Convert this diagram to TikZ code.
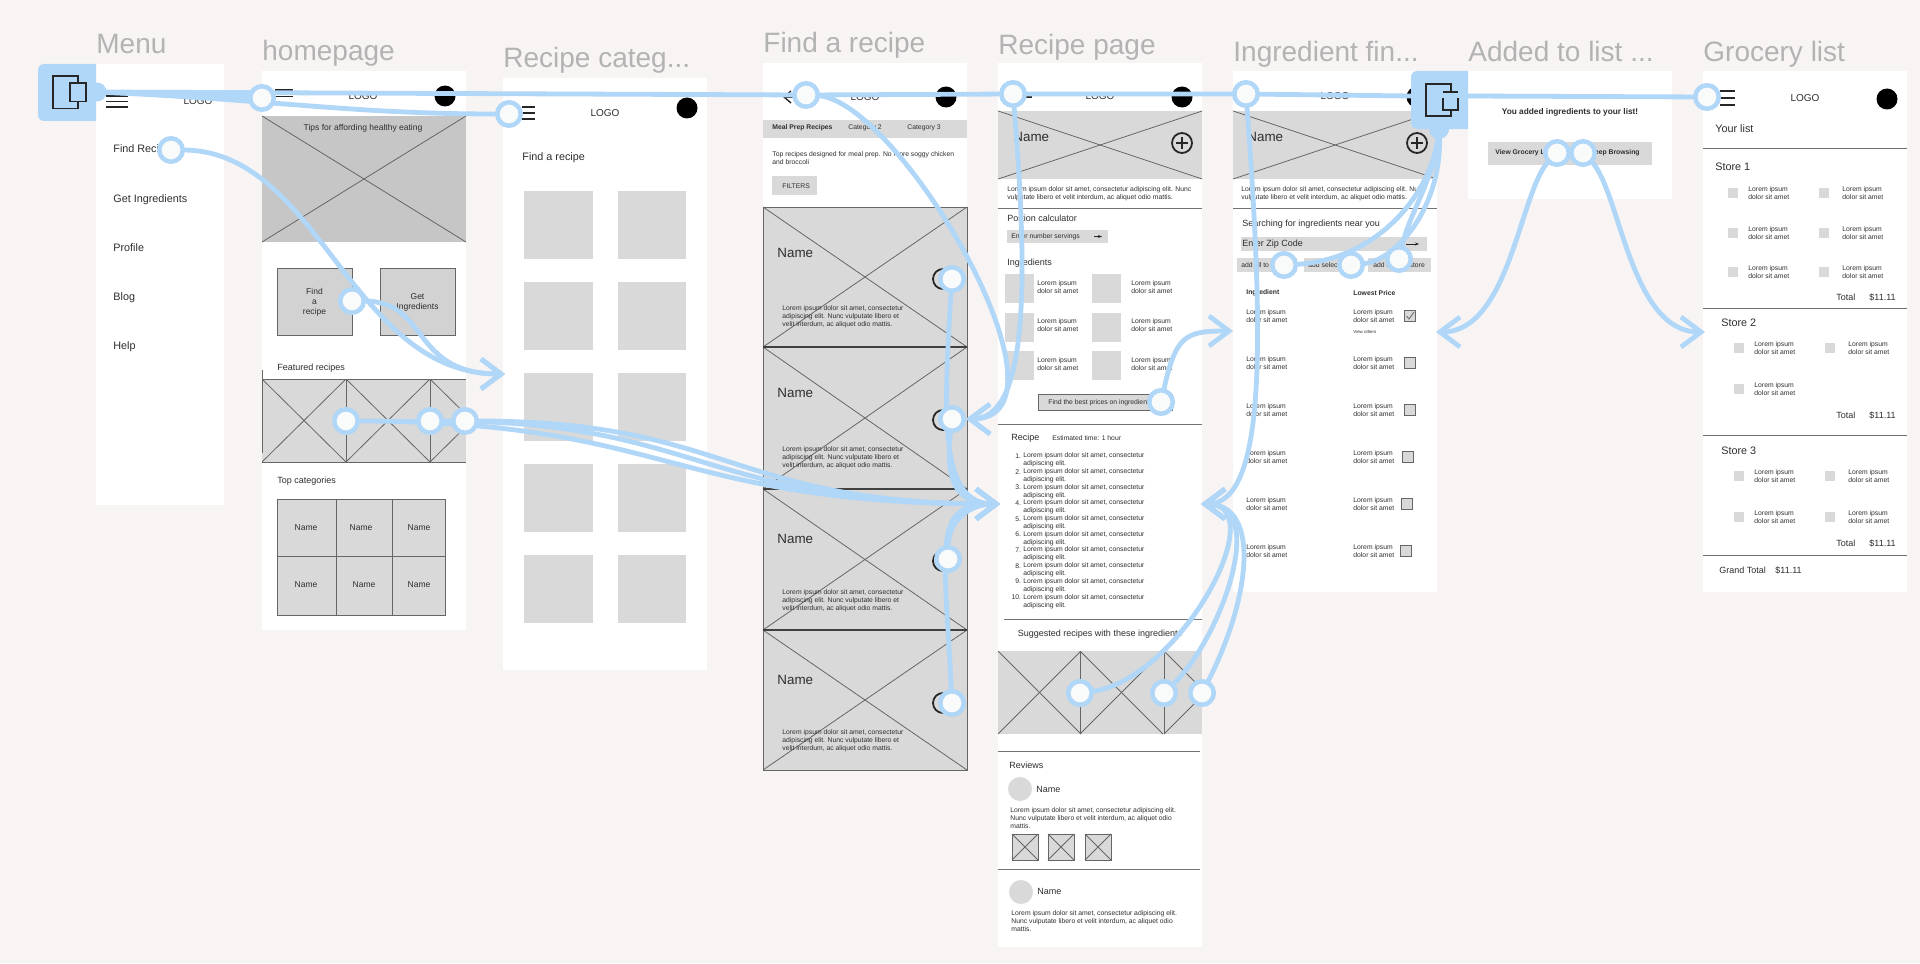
\documentclass[tikz,border=0pt]{standalone}
\usepackage{fontspec}
\setmainfont{Liberation Sans}
\usetikzlibrary{arrows.meta}

\definecolor{canvasbg}{HTML}{F7F4F3}
\definecolor{flowblue}{HTML}{B0D6F8}
\definecolor{spotfill}{HTML}{F9FAFA}
\definecolor{wiregray}{HTML}{D9D9D9}
\definecolor{herogray}{HTML}{C6C6C6}
\definecolor{buttongray}{HTML}{D2D2D2}
\definecolor{titlegray}{HTML}{B3B3B3}
\definecolor{inkgray}{HTML}{2E2E2E}

\pgfdeclarelayer{links}
\pgfdeclarelayer{spots}
\pgfsetlayers{main,links,spots}

\tikzset{
  panel/.style={fill=white},
  wirefill/.style={fill=wiregray},
  wireline/.style={draw=black!60,line width=0.4pt},
  sepline/.style={draw=black!55,line width=0.45pt},
  heavyline/.style={draw=black!75,line width=0.8pt},
  burgerline/.style={draw=black!85,line width=0.7pt},
  title/.style={font=\fontsize{14}{14}\selectfont,text=titlegray,anchor=base west,inner sep=0pt},
  lbl/.style={font=\fontsize{4.5}{5.2}\selectfont,text=inkgray,anchor=west,align=left,inner sep=0pt},
  lbltiny/.style={lbl,font=\fontsize{3.4}{4}\selectfont},
  lbltinyr/.style={lbltiny,anchor=east},
  lblbold/.style={lbltiny,font=\fontsize{3.4}{4}\selectfont\bfseries},
  lblmed/.style={lbl,font=\fontsize{5.4}{6}\selectfont},
  lblname/.style={lbl,font=\fontsize{6.7}{7}\selectfont},
  lblmid/.style={lbl,anchor=center,align=center,font=\fontsize{4.25}{5}\selectfont},
  lbllogo/.style={lbl,anchor=center,font=\fontsize{5}{5}\selectfont},
  hotspot/.style={circle,draw=flowblue,fill=spotfill,line width=2.25pt,minimum size=11.75pt,inner sep=0pt,outer sep=0pt},
  flowtab/.style={circle,fill=flowblue,minimum size=9.5pt,inner sep=0pt,outer sep=0pt},
  flow/.style={draw=flowblue,line width=2.4pt},
  flowarrow/.style={flow,-{Straight Barb[length=10pt,width=15pt]}},
  iconline/.style={draw=black!85,line width=0.9pt},
}

\newcounter{labn}
\newcommand{\lab}[4][lbl]{\stepcounter{labn}\node[#1] (lab\arabic{labn}) at ({#2},{#3}) {#4};}
\newcommand{\xband}[4]{
  \fill[wirefill] (#1,#2) rectangle (#3,#4);
  \draw[wireline] (#1,#2) -- (#3,#4);
  \draw[wireline] (#1,#4) -- (#3,#2);
}
\newcommand{\xbox}[4]{
  \xband{#1}{#2}{#3}{#4}
  \draw[wireline] (#1,#2) rectangle (#3,#4);
}
\newcommand{\plusicon}[2]{
  \draw[iconline] (#1,#2) circle (10);
  \draw[iconline] (#1-6,#2) -- (#1+6,#2);
  \draw[iconline] (#1,#2-6) -- (#1,#2+6);
}
\newcommand{\lips}{Lorem ipsum\\dolor sit amet}
\newcommand{\lipsthree}{Lorem ipsum dolor sit amet, consectetur\\adipiscing elit. Nunc vulputate libero et\\velit interdum, ac aliquet odio mattis.}

\begin{document}
\begin{tikzpicture}[x=0.5pt,y=-0.5pt]
  \fill[canvasbg] (0,0) rectangle (1920,963);
  \useasboundingbox (0,0) rectangle (1920,963);

  % screens
  \foreach \xa/\ya/\xb/\yb in {96/64/224/504.5, 262/71/466/630, 503/78/707/670, 763/63/967/771,
    998/63.5/1202/947, 1233/71/1437/592, 1468/71/1672/199, 1703/71/1907/592} {
    \fill[panel] (\xa,\ya) rectangle (\xb,\yb);
  }
  \lab[title]{96}{54}{Menu}
  \lab[title]{262}{61}{homepage}
  \lab[title]{503}{68}{Recipe categ...}
  \lab[title]{763}{53}{Find a recipe}
  \lab[title]{998}{55}{Recipe page}
  \lab[title]{1233}{61.5}{Ingredient fin...}
  \lab[title]{1468}{61.5}{Added to list ...}
  \lab[title]{1703}{61.5}{Grocery list}

  % menu
  \foreach \y in {96,101.5,107} \draw[burgerline] (106,\y) -- (128,\y);
  \lab[lbllogo]{198}{101}{LOGO}
  \foreach \y/\t in {150/Find Recipe,199.5/Get Ingredients,248/Profile,298/Blog,347/Help} {
    \lab[lblmed]{113}{\y}{\t}
  }

  % homepage
  \foreach \y in {90,96.5,103} \draw[burgerline] (275,\y) -- (293,\y);
  \lab[lbllogo]{363}{96}{LOGO}
  \fill[black] (445,96) circle (10.5);
  \fill[herogray] (262,116) rectangle (466,242);
  \draw[wireline] (262,116) -- (466,242);
  \draw[wireline] (262,242) -- (466,116);
  \lab[lblmid]{363}{128.5}{Tips for affording healthy eating}
  \foreach \xa/\xb/\t in {277/352/{Find\\a\\recipe},380/455/{Get\\Ingredients}} {
    \fill[buttongray] (\xa,268.5) rectangle (\xb,335);
    \draw[wireline] (\xa,268.5) rectangle (\xb,335);
    \lab[lblmid]{(\xa+\xb)/2}{302}{\t}
  }
  \lab{277}{368}{Featured recipes}
  \fill[wirefill] (262,379) rectangle (466,462);
  \begin{scope}
    \clip (262,379) rectangle (466,462);
    \foreach \x in {262,346,430} {
      \draw[wireline] (\x,379) -- (\x+84,462);
      \draw[wireline] (\x,462) -- (\x+84,379);
      \draw[wireline] (\x+84,379) -- (\x+84,462);
    }
  \end{scope}
  \draw[wireline] (262,379) -- (466,379);
  \draw[wireline] (262,462) -- (466,462);
  \draw[wireline] (262,370) -- (262,453);
  \lab{277}{481}{Top categories}
  \fill[wirefill] (277,499) rectangle (445,615);
  \draw[wireline] (277,499) rectangle (445,615);
  \draw[wireline] (277,556.5) -- (445,556.5);
  \draw[wireline] (336,499) -- (336,615);
  \draw[wireline] (392.5,499) -- (392.5,615);
  \foreach \x/\y in {306/527.5,361/527.5,419/527.5,306/584.5,364/584.5,419/584.5} {
    \lab[lblmid]{\x}{\y}{Name}
  }

  % recipe categories
  \foreach \y in {107,113,119} \draw[burgerline] (522,\y) -- (535,\y);
  \lab[lbllogo]{605}{113}{LOGO}
  \fill[black] (687,108) circle (10.5);
  \lab[lblmed]{522}{158}{Find a recipe}
  \foreach \y in {191,282,373,464,555} {
    \fill[wirefill] (524,\y) rectangle (593,\y+68);
    \fill[wirefill] (618,\y) rectangle (686,\y+68);
  }

  % find a recipe
  \draw[burgerline] (784,97) -- (800,97);
  \draw[burgerline] (791,91) -- (784,97) -- (791,103);
  \lab[lbllogo]{865}{97}{LOGO}
  \fill[black] (946,97) circle (10.5);
  \fill[wirefill] (763,120) rectangle (967,138);
  \lab[lblbold]{772}{128}{Meal Prep Recipes}
  \lab[lbltiny]{848}{128}{Category 2}
  \lab[lbltiny]{907}{128}{Category 3}
  \lab[lbltiny]{772}{158}{Top recipes designed for meal prep. No more soggy chicken\\and broccoli}
  \fill[wirefill] (772,176) rectangle (817,195);
  \lab[lbltiny]{782}{186}{FILTERS}
  \foreach \ya/\yb/\yn/\yl/\yh in {207/347/253/317/279, 347/489/393/458/420, 489/630/539/601/561, 630/770/680/741/703} {
    \xbox{763}{\ya}{967}{\yb}
    \lab[lblname]{777}{\yn}{Name}
    \lab[lbltiny]{782}{\yl}{\lipsthree}
    \draw[iconline] (943,\yh) circle (10);
  }
  \foreach \y in {347,489,630} \draw[heavyline] (763,\y) -- (967,\y);

  % recipe page
  \draw[burgerline] (1012,97) -- (1032,97);
  \lab[lbllogo]{1100}{96}{LOGO}
  \fill[black] (1182,97) circle (10.5);
  \xband{998}{111}{1202}{179}
  \lab[lblname]{1013}{137}{Name}
  \plusicon{1182}{143}
  \lab[lbltiny]{1007}{194}{Lorem ipsum dolor sit amet, consectetur adipiscing elit. Nunc\\vulputate libero et velit interdum, ac aliquet odio mattis.}
  \draw[sepline] (998,208) -- (1202,208);
  \lab{1007}{218}{Portion calculator}
  \fill[wirefill] (1007,230) rectangle (1108,243);
  \lab[lbltiny]{1011}{236.5}{Enter number servings}
  \draw[burgerline,line width=0.5pt,-{Stealth[length=2pt]}] (1094,236.5) -- (1102,236.5);
  \lab{1007}{263}{Ingredients}
  \foreach \y in {274,312.5,351} {
    \fill[wirefill] (1005,\y) rectangle (1034,\y+29);
    \fill[wirefill] (1092,\y) rectangle (1121,\y+29);
    \lab[lbltiny]{1037}{\y+13}{\lips}
    \lab[lbltiny]{1131}{\y+13}{\lips}
  }
  \fill[wirefill] (1038,394.5) rectangle (1172,410);
  \draw[wireline] (1038,394.5) rectangle (1172,410);
  \lab[lbltiny]{1048}{402.5}{Find the best prices on ingredients}
  \draw[sepline] (998,424) -- (1202,424);
  \lab{1011}{438}{Recipe}
  \lab[lbltiny]{1052}{438}{Estimated time: 1 hour}
  \foreach \n [evaluate=\n as \yy using 460+15.7*(\n-1)] in {1,...,10} {
    \lab[lbltinyr]{1021.5}{\yy-4}{\n.}
    \lab[lbltiny]{1023}{\yy}{Lorem ipsum dolor sit amet, consectetur\\adipiscing elit.}
  }
  \draw[sepline] (1004,619) -- (1202,619);
  \lab[lblmid,font=\fontsize{4.5}{5}\selectfont]{1100}{634}{Suggested recipes with these ingredients}
  \fill[wirefill] (998,651) rectangle (1202,734);
  \begin{scope}
    \clip (998,651) rectangle (1202,734);
    \foreach \x in {998,1080,1164} {
      \draw[wireline] (\x,651) -- (\x+83,734);
      \draw[wireline] (\x,734) -- (\x+83,651);
    }
    \draw[wireline] (1080,651) -- (1080,734);
    \draw[wireline] (1164,651) -- (1164,734);
  \end{scope}
  \draw[sepline] (998,751) -- (1200,751);
  \lab{1009}{765}{Reviews}
  \fill[wirefill] (1020,789) circle (12);
  \lab{1036}{789}{Name}
  \lab[lbltiny]{1010}{818.5}{Lorem ipsum dolor sit amet, consectetur adipiscing elit.\\Nunc vulputate libero et velit interdum, ac aliquet odio\\mattis.}
  \foreach \x in {1012,1048,1085} \xbox{\x}{834}{\x+26}{860}
  \draw[sepline] (998,869) -- (1200,869);
  \fill[wirefill] (1021,892) circle (12);
  \lab{1037}{891}{Name}
  \lab[lbltiny]{1011}{921}{Lorem ipsum dolor sit amet, consectetur adipiscing elit.\\Nunc vulputate libero et velit interdum, ac aliquet odio\\mattis.}

  % ingredient finder
  \lab[lbllogo]{1335}{96}{LOGO}
  \fill[black] (1417,97) circle (10.5);
  \xband{1233}{111}{1437}{179}
  \lab[lblname]{1247}{137}{Name}
  \plusicon{1417}{143}
  \lab[lbltiny]{1241}{194}{Lorem ipsum dolor sit amet, consectetur adipiscing elit. Nunc\\vulputate libero et velit interdum, ac aliquet odio mattis.}
  \draw[sepline] (1233,208) -- (1437,208);
  \lab{1242}{224}{Searching for ingredients near you}
  \fill[wirefill] (1241,237) rectangle (1427,251);
  \lab{1242}{244}{Enter Zip Code}
  \draw[burgerline,line width=0.4pt,-{Stealth[length=2pt]}] (1406,244) -- (1419,244);
  \foreach \xa/\xb/\xt/\t in {1237/1297/1241/add all to list, 1304/1361/1308/add selected, 1368/1431/1373/add closest store} {
    \fill[wirefill] (\xa,258) rectangle (\xb,272);
    \lab[lbltiny]{\xt}{265}{\t}
  }
  \lab[lblbold]{1246}{293}{Ingredient}
  \lab[lblbold]{1353}{293}{Lowest Price}
  \foreach \y/\xc in {316/1410,363/1410,410/1410,457/1408,504/1407,551/1406} {
    \lab[lbltiny]{1246}{\y}{\lips}
    \lab[lbltiny]{1353}{\y}{\lips}
    \fill[wirefill] (\xc-5.5,\y-5.5) rectangle (\xc+5.5,\y+5.5);
    \draw[wireline] (\xc-5.5,\y-5.5) rectangle (\xc+5.5,\y+5.5);
  }
  \draw[wireline] (1406.5,316) -- (1409,319) -- (1414,312);
  \lab[lbltiny,font=\fontsize{2.2}{2.5}\selectfont]{1353}{331.5}{View others}

  % added to list
  \lab[lblmid,font=\fontsize{4.15}{5}\selectfont\bfseries]{1570}{112}{You added ingredients to your list!}
  \fill[wirefill] (1488,142) rectangle (1652,165);
  \lab[lblbold]{1495}{153}{View Grocery List}
  \lab[lblbold,anchor=east]{1640}{153}{Keep Browsing}

  % grocery list
  \foreach \y in {91,98,105} \draw[burgerline] (1720,\y) -- (1735,\y);
  \lab[lbllogo]{1805}{98}{LOGO}
  \fill[black] (1887,99) circle (10.5);
  \lab[lblmed]{1715}{129}{Your list}
  \foreach \y in {148,308.5,435,555} \draw[sepline] (1703,\y) -- (1907,\y);
  \lab[lblmed]{1715}{167}{Store 1}
  \lab[lblmed]{1721}{323}{Store 2}
  \lab[lblmed]{1721}{451}{Store 3}
  \foreach \xs/\xt/\y in {1733/1748/193, 1824/1842/193, 1733/1748/233, 1824/1842/233, 1733/1748/272, 1824/1842/272,
    1739/1754/348, 1830/1848/348, 1739/1754/389,
    1739/1754/476, 1830/1848/476, 1739/1754/517, 1830/1848/517} {
    \fill[wirefill] (\xs-5,\y-5) rectangle (\xs+5,\y+5);
    \lab[lbltiny]{\xt}{\y}{\lips}
  }
  \foreach \y in {297.5,415,543} {
    \lab{1836}{\y}{Total}
    \lab{1869}{\y}{\$11.11}
  }
  \lab{1719}{570}{Grand Total}
  \lab{1775}{570}{\$11.11}

  % flow handles and hotspots
  \begin{pgfonlayer}{spots}
    \node[flowtab] (tabMenu) at (97,92) {};
    \fill[flowblue] (96,64) [rounded corners=3pt] -- (38,64) -- (38,121) [sharp corners] -- (96,121) -- cycle;
    \draw[iconline] (53,76) rectangle (78,108.5);
    \fill[flowblue] (70,83) rectangle (86,101.5);
    \draw[iconline] (70,83) rectangle (86,101.5);

    \node[flowtab,minimum size=10pt] (tabAdded) at (1439,129) {};
    \fill[flowblue] (1468,71) [rounded corners=3pt] -- (1411,71) -- (1411,129) [sharp corners] -- (1468,129) -- cycle;
    \draw[iconline] (1451,91) -- (1451,84) -- (1426,84) -- (1426,116) -- (1451,116) -- (1451,111);
    \draw[iconline] (1443,98) -- (1443,110) -- (1458,110) -- (1458,98);
    \draw[iconline] (1443,92) -- (1458,92);
    \coordinate (boxAdded) at (1411,96);
    \coordinate (boxAddedR) at (1468,96);

    \node[hotspot] (spotMenuFind) at (171,150) {};
    \node[hotspot] (spotHomeMenu) at (262,98) {};
    \node[hotspot] (spotHomeFind) at (352,301) {};
    \node[hotspot] (spotFeatA) at (346,421) {};
    \node[hotspot] (spotFeatB) at (430,421) {};
    \node[hotspot] (spotFeatC) at (465,421) {};
    \node[hotspot] (spotCateg) at (509,114) {};
    \node[hotspot] (spotFindBack) at (806,95) {};
    \node[hotspot] (spotCardA) at (952,279) {};
    \node[hotspot] (spotCardB) at (952,419) {};
    \node[hotspot] (spotCardC) at (948,559) {};
    \node[hotspot] (spotCardD) at (952,703) {};
    \node[hotspot] (spotPageBack) at (1013,94) {};
    \node[hotspot] (spotBest) at (1161,402) {};
    \node[hotspot] (spotSugA) at (1080,693) {};
    \node[hotspot] (spotSugB) at (1164,693) {};
    \node[hotspot] (spotSugC) at (1202,693) {};
    \node[hotspot] (spotIngBack) at (1246,94) {};
    \node[hotspot] (spotAddAll) at (1284,265) {};
    \node[hotspot] (spotAddSel) at (1351,265) {};
    \node[hotspot] (spotAddStore) at (1399,259) {};
    \node[hotspot] (spotViewList) at (1557,153) {};
    \node[hotspot] (spotKeep) at (1583,153) {};
    \node[hotspot] (spotGrocery) at (1707,97) {};
  \end{pgfonlayer}

  % flow lines
  \coordinate (tipCateg) at (505,374);
  \coordinate (tipPageL) at (1000,504);
  \coordinate (tipFindR) at (966,419);
  \coordinate (tipIngL) at (1233,331);
  \coordinate (tipPageR) at (1201,504);
  \coordinate (tipIngR) at (1436,332);
  \coordinate (tipGroceryL) at (1705,332);
  \begin{pgfonlayer}{links}
    \draw[flow] (tabMenu.center) -- (spotFindBack.center) -- (spotPageBack.center) -- (spotIngBack.center) -- (boxAdded);
    \draw[flow] (tabMenu.center) -- (spotHomeMenu.center);
    \draw[flow] (tabMenu.center) .. controls (280,100) and (350,114) .. (spotCateg);
    \draw[flow] (boxAddedR) -- (spotGrocery);

    \draw[flowarrow] (spotMenuFind) .. controls (320,150) and (350,374) .. (tipCateg);
    \draw[flowarrow] (spotHomeFind) .. controls (430,301) and (410,374) .. (tipCateg);

    \draw[flow] (spotFeatA.center) -- (spotFeatC.center);
    \draw[flowarrow] (spotFeatA) .. controls (670,421) and (670,504) .. (tipPageL);
    \draw[flowarrow] (spotFeatB) .. controls (700,421) and (700,504) .. (tipPageL);
    \draw[flowarrow] (spotFeatC) .. controls (730,421) and (730,504) .. (tipPageL);
    \draw[flowarrow] (spotCardA) .. controls (942,430) and (942,504) .. (tipPageL);
    \draw[flowarrow] (spotCardB) .. controls (945,480) and (955,504) .. (tipPageL);
    \draw[flowarrow] (spotCardC) .. controls (948,520) and (970,504) .. (tipPageL);
    \draw[flowarrow] (spotCardD) .. controls (944,540) and (932,504) .. (tipPageL);

    \draw[flowarrow] (spotFindBack) .. controls (900,100) and (1085,419) .. (tipFindR);
    \draw[flowarrow] (spotPageBack) .. controls (1030,300) and (1025,419) .. (tipFindR);
    \draw[flowarrow] (spotBest) .. controls (1176,335) and (1185,331) .. (tipIngL);
    \draw[flowarrow] (spotIngBack) .. controls (1265,350) and (1265,504) .. (tipPageR);
    \draw[flowarrow] (spotSugA) .. controls (1180,680) and (1275,504) .. (tipPageR);
    \draw[flowarrow] (spotSugB) .. controls (1220,640) and (1270,504) .. (tipPageR);
    \draw[flowarrow] (spotSugC) .. controls (1250,600) and (1262,504) .. (tipPageR);

    \draw[flow] (spotAddAll) .. controls (1380,260) and (1435,190) .. (tabAdded.center);
    \draw[flow] (spotAddSel) .. controls (1400,260) and (1445,200) .. (tabAdded.center);
    \draw[flow] (spotAddStore) .. controls (1410,210) and (1435,180) .. (tabAdded.center);

    \draw[flowarrow] (spotViewList) .. controls (1520,190) and (1510,332) .. (tipIngR);
    \draw[flowarrow] (spotKeep) .. controls (1620,190) and (1630,332) .. (tipGroceryL);
  \end{pgfonlayer}
\end{tikzpicture}
\end{document}
